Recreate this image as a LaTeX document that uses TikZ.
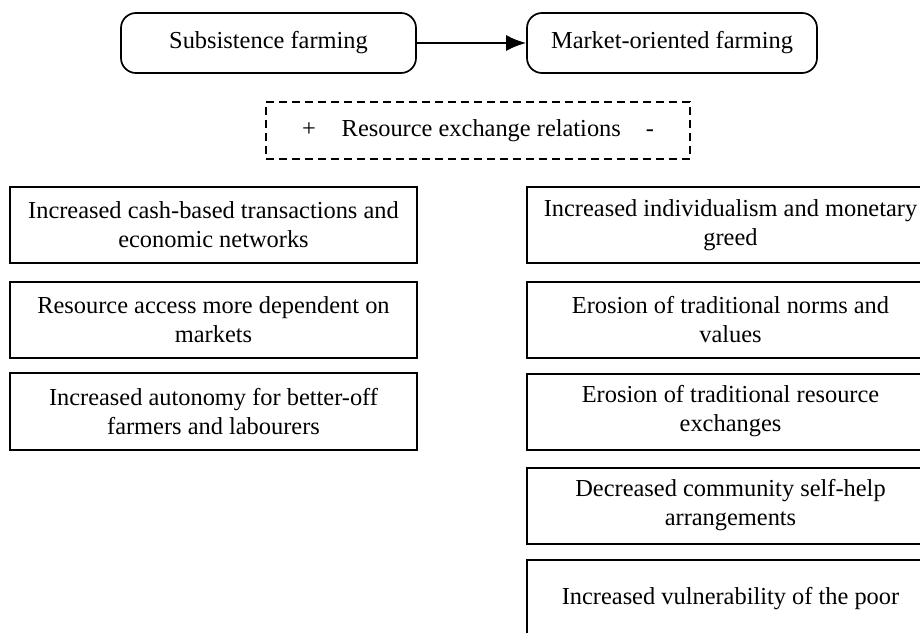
\documentclass[tikz,border=0pt]{standalone}
\usepackage{fontspec}
\setmainfont{Liberation Serif}
\usetikzlibrary{arrows.meta}
\begin{document}
\begin{tikzpicture}[x=1pt,y=-1pt,
  every node/.style={font=\fontsize{24.4}{29}\selectfont, inner sep=0pt, align=center},
  rbox/.style={draw, line width=1.7pt, rounded corners=15pt, minimum height=60pt},
  dbox/.style={draw, line width=2pt, dash pattern=on 8pt off 5pt, minimum width=424pt, minimum height=57pt},
  ebox/.style={draw, line width=2pt, minimum width=407pt, minimum height=76pt},
  flow/.style={line width=2pt, -{Latex[length=20pt,width=16pt]}}
]
\useasboundingbox (0,0) rectangle (920,632);
\clip (0,0) rectangle (920,632);
\fill[white] (0,0) rectangle (920,632);

\node[rbox, minimum width=295pt] (sub) at (268.5,43) {Subsistence farming};
\node[rbox, minimum width=290pt] (mkt) at (672,43) {Market-oriented farming};
\draw[flow] (sub.east) -- (mkt.west);

\node[dbox] (rel) at (478,130.5) {+\hspace{26pt}Resource exchange relations\hspace{25pt}-};

\node[ebox] (l1) at (213.5,225) {Increased cash-based transactions and\\economic networks};
\node[ebox] (l2) at (213.5,320) {Resource access more dependent on\\markets};
\node[ebox, minimum height=77pt] (l3) at (213.5,411.5) {Increased autonomy for better-off\\farmers and labourers};

\node[ebox] (r1) at (730.5,225) {Increased individualism and monetary\\greed};
\node[ebox] (r2) at (730.5,320) {Erosion of traditional norms and\\values};
\node[ebox] (r3) at (730.5,411.5) {Erosion of traditional resource\\exchanges};
\node[ebox] (r4) at (730.5,505.5) {Decreased community self-help\\arrangements};
\node[ebox, minimum height=77pt] (r5) at (730.5,598.5) {Increased vulnerability of the poor};
\end{tikzpicture}
\end{document}
